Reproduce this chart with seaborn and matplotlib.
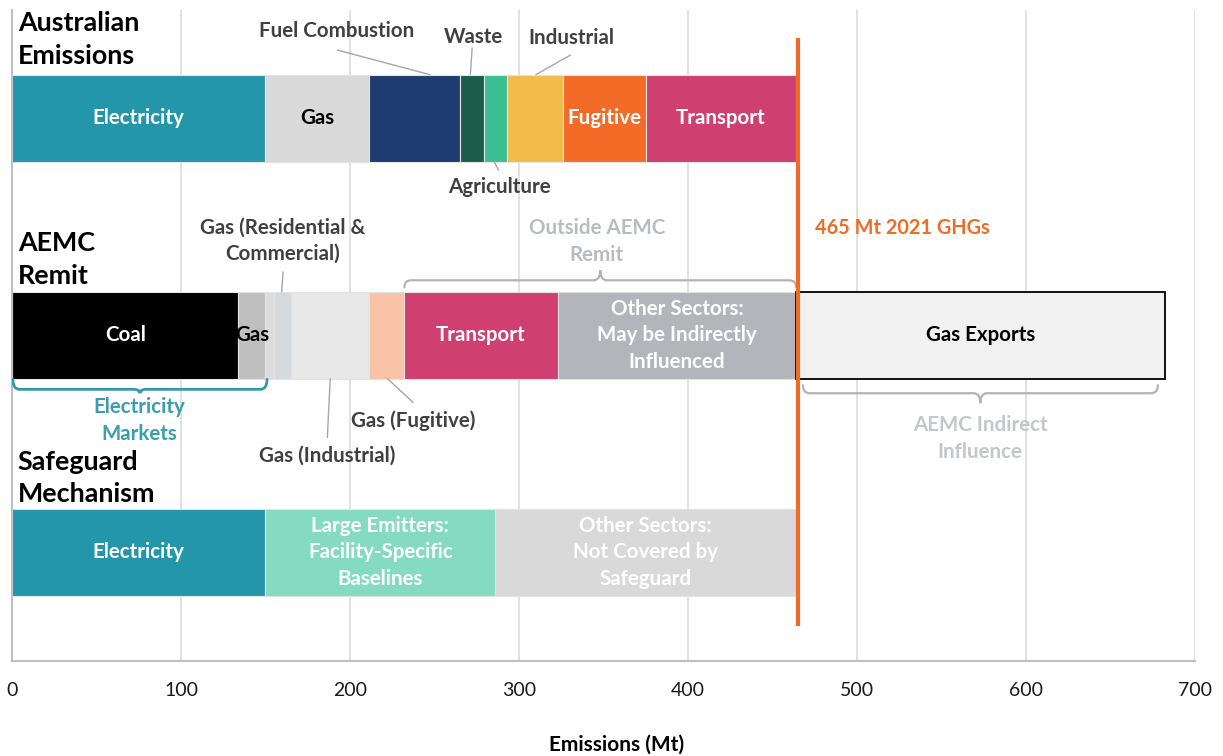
import numpy as np
import pandas as pd
import matplotlib
matplotlib.use("Agg")
import matplotlib.pyplot as plt
from matplotlib.path import Path
from matplotlib.patches import PathPatch
import seaborn as sns

# ---------------- data ----------------
ROWS = ["Australian Emissions", "AEMC Remit", "Safeguard Mechanism"]

aus_segments = ["Electricity", "Gas", "Fuel Combustion", "Waste", "Agriculture",
                "Industrial", "Fugitive", "Transport"]
aus_values = [150, 61, 54, 14, 14, 33, 49, 89]
aus_labels = ["Electricity", "Gas", "", "", "", "", "Fugitive", "Transport"]

aemc_segments = ["Coal", "Gas", "Gas (Residential)", "Gas (Commercial)", "Gas (Industrial)",
                 "Gas (Fugitive)", "Transport", "Other Sectors", "Gas Exports"]
aemc_values = [134, 16, 5, 10, 46, 21, 91, 141, 218]
aemc_labels = ["Coal", "Gas", "", "", "", "", "Transport",
               "Other Sectors:\nMay be Indirectly\nInfluenced", "Gas Exports"]

sg_segments = ["Electricity", "Large Emitters", "Other Sectors"]
sg_values = [150, 136, 178]
sg_labels = ["Electricity", "Large Emitters:\nFacility-Specific\nBaselines",
             "Other Sectors:\nNot Covered by\nSafeguard"]

TOTAL_GHG = 465
TOTAL_LABEL = "465 Mt 2021 GHGs"
X_TICKS = [0, 100, 200, 300, 400, 500, 600, 700]
X_LABEL = "Emissions (Mt)"

# ---------------- styles ----------------
aus_colors = ["#2397a9", "#d9d9d9", "#1e3c6f", "#1c5c4a", "#3bbd96", "#f3bc4a", "#f26b27", "#cf3f6f"]
aus_text = ["white", "black", "white", "white", "white", "white", "white", "white"]
aemc_colors = ["#000000", "#bfbfbf", "#dcdcdc", "#d6dadd", "#e8e8e8", "#f8c3a6", "#cf3f6f", "#b2b6bb", "#f1f1f1"]
aemc_text = ["white", "black", "black", "black", "black", "black", "white", "white", "black"]
sg_colors = ["#2397a9", "#84dbc0", "#d9d9d9"]
sg_text = ["white", "white", "white"]

FS = 14.8
LS = 1.42

sns.set_style("white")
plt.rcParams["font.family"] = ["Lato", "DejaVu Sans"]

fig = plt.figure(figsize=(12.23, 7.56), dpi=100)
ax = fig.add_axes([0.00981, 0.12566, 0.96729, 0.86177])

rows_data = [
    (ROWS[0], aus_segments, aus_values, aus_labels, aus_colors, aus_text),
    (ROWS[1], aemc_segments, aemc_values, aemc_labels, aemc_colors, aemc_text),
    (ROWS[2], sg_segments, sg_values, sg_labels, sg_colors, sg_text),
]

for ri, (row, segs, vals, labels, cols, tcols) in enumerate(rows_data):
    left = 0
    for seg, v, lab, c, tc in zip(segs, vals, labels, cols, tcols):
        is_export = seg == "Gas Exports"
        sns.barplot(x=[v], y=[row], order=ROWS, orient="h", color=c, saturation=1,
                    width=0.4, left=left, errorbar=None, ax=ax,
                    edgecolor="black" if is_export else "#e3e3e3",
                    linewidth=1.3 if is_export else 0.8, zorder=2)
        if lab:
            ax.text(left + v / 2, ri, lab, ha="center", va="center", color=tc,
                    fontsize=FS, fontweight="bold", linespacing=LS, zorder=4)
        left += v

# total line
ax.plot([TOTAL_GHG, TOTAL_GHG], [-0.369, 2.34], color="#f06b25", lw=3,
        solid_capstyle="butt", zorder=6)
ax.text(474.9, 0.507, TOTAL_LABEL, ha="left", va="center", color="#f06b25",
        fontsize=14.3, fontweight="bold", zorder=6)

# axes styling
ax.set_xlim(0, 700)
ax.set_ylim(2.5, -0.5)
ax.set_xticks(X_TICKS)
ax.set_xticklabels([str(t) for t in X_TICKS], fontsize=14, color="#1a1a1a")
ax.tick_params(axis="x", length=0, pad=15)
ax.set_yticks([])
ax.set_ylabel("")
ax.set_xlabel("")
ax.grid(axis="x", color="#d9d9d9", lw=1.1, zorder=0)
ax.grid(axis="y", visible=False)
ax.set_axisbelow(True)
for s in ["top", "right"]:
    ax.spines[s].set_visible(False)
for s in ["left", "bottom"]:
    ax.spines[s].set_color("#bfbfbf")
    ax.spines[s].set_linewidth(1.5)

fig.text(617 / 1223, 1 - 745 / 756, X_LABEL, ha="center", va="center",
         fontsize=15, fontweight="bold", color="black")

# row titles
for ri, (title, y) in enumerate(zip(["Australian\nEmissions", "AEMC\nRemit", "Safeguard\nMechanism"],
                                     [-0.362, 0.652, 1.657])):
    ax.text(3.4, y, title, ha="left", va="center", fontsize=19.4, fontweight="bold",
            color="black", linespacing=LS, zorder=5)

# annotations with leader lines
ann_color = "#404040"
lead_color = "#a6a6a6"
anns = [
    ("Fuel Combustion", (192.3, -0.401), [(192.6, -0.313), (247.3, -0.2)]),
    ("Waste", (272.8, -0.373), [(272.3, -0.323), (271.2, -0.2)]),
    ("Industrial", (330.8, -0.369), [(330.4, -0.29), (310.0, -0.2)]),
    ("Agriculture", (288.2, 0.318), [(285.2, 0.2), (288.0, 0.24)]),
    ("Gas (Residential &\nCommercial)", (160.4, 0.565), [(160.4, 0.708), (159.6, 0.8)]),
    ("Gas (Industrial)", (186.4, 1.553), [(188.3, 1.2), (186.6, 1.471)]),
    ("Gas (Fugitive)", (237.3, 1.392), [(222.2, 1.2), (237.3, 1.309)]),
]
for txt, (tx, ty), pts in anns:
    ax.text(tx, ty, txt, ha="center", va="center", color=ann_color, fontsize=FS,
            fontweight="bold", linespacing=LS, zorder=5)
    ax.plot([p[0] for p in pts], [p[1] for p in pts], color=lead_color, lw=1.0, zorder=3)


def brace(x0, x1, yb, ym, yt, color, lw, r=4.0):
    xc = (x0 + x1) / 2
    verts = [(x0, yb), (x0, ym), (x0 + r, ym), (xc - r, ym), (xc, ym), (xc, yt),
             (xc, ym), (xc + r, ym), (x1 - r, ym), (x1, ym), (x1, yb)]
    codes = [Path.MOVETO, Path.CURVE3, Path.CURVE3, Path.LINETO, Path.CURVE3, Path.CURVE3,
             Path.CURVE3, Path.CURVE3, Path.LINETO, Path.CURVE3, Path.CURVE3]
    ax.add_patch(PathPatch(Path(verts, codes), fill=False, edgecolor=color, lw=lw,
                           capstyle="round", zorder=5))


brace(0.5, 150.9, 1.203, 1.249, 1.267, "#3399aa", 2.0)
ax.text(75.1, 1.394, "Electricity\nMarkets", ha="center", va="center", color="#3a9eab",
        fontsize=FS, fontweight="bold", linespacing=LS, zorder=5)

brace(232.2, 464.0, 0.779, 0.747, 0.700, "#b0b4b8", 1.6)
ax.text(346.0, 0.567, "Outside AEMC\nRemit", ha="center", va="center", color="#b8bcc0",
        fontsize=FS, fontweight="bold", linespacing=LS, zorder=5)

brace(468.0, 678.0, 1.230, 1.267, 1.313, "#b0b4b8", 1.6)
ax.text(572.8, 1.477, "AEMC Indirect\nInfluence", ha="center", va="center", color="#c4c7ca",
        fontsize=FS, fontweight="bold", linespacing=LS, zorder=5)

fig.savefig("out.png", dpi=100)
